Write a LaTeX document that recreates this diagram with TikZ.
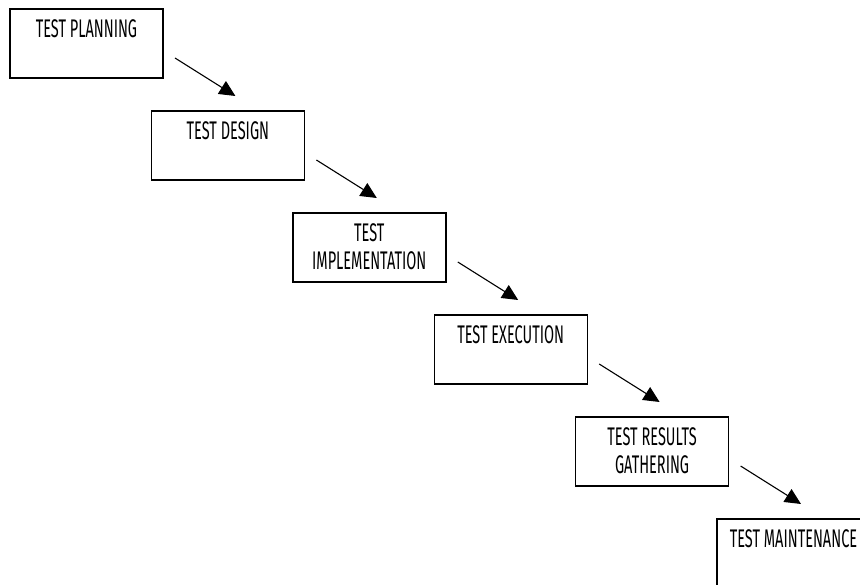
\documentclass[tikz,border=0pt]{standalone}
\usepackage{fontspec}
\setmainfont{Fira Sans}[FakeStretch=0.57]
\usetikzlibrary{arrows.meta}
\usetikzlibrary{positioning}

\begin{document}
\begin{tikzpicture}[x=1pt,y=-1pt,
    stage/.style={draw, line width=1.4pt, outer sep=0pt, inner sep=0pt,
        anchor=north west, minimum width=153pt, minimum height=69pt,
        label={[anchor=north, yshift=-10pt, inner sep=0pt, align=center,
            font=\fontsize{25.5}{28}\selectfont]north:#1}},
    flow/.style={line width=1.1pt, -{Triangle[length=16pt,width=15pt]}}
]
    \clip (0,0) rectangle (860,585);
    % the six stages, one step down and to the right each time
    \foreach \name/\txt [count=\k from 0] in {plan/TEST PLANNING, design/TEST DESIGN,
        impl/{TEST\\IMPLEMENTATION}, exec/TEST EXECUTION,
        results/{TEST RESULTS\\GATHERING}, maint/TEST MAINTENANCE}{
            \node[stage=\txt] (\name) at (10+141.4*\k, 9+102*\k) {};
        }
    % arrows between the stages
    \foreach \a/\b in {plan/design, design/impl, impl/exec, exec/results, results/maint}{
            \draw[flow] ([shift={(12,49)}]\a.north east) -- ([shift={(84,-15)}]\b.north west);
        }
\end{tikzpicture}
\end{document}
